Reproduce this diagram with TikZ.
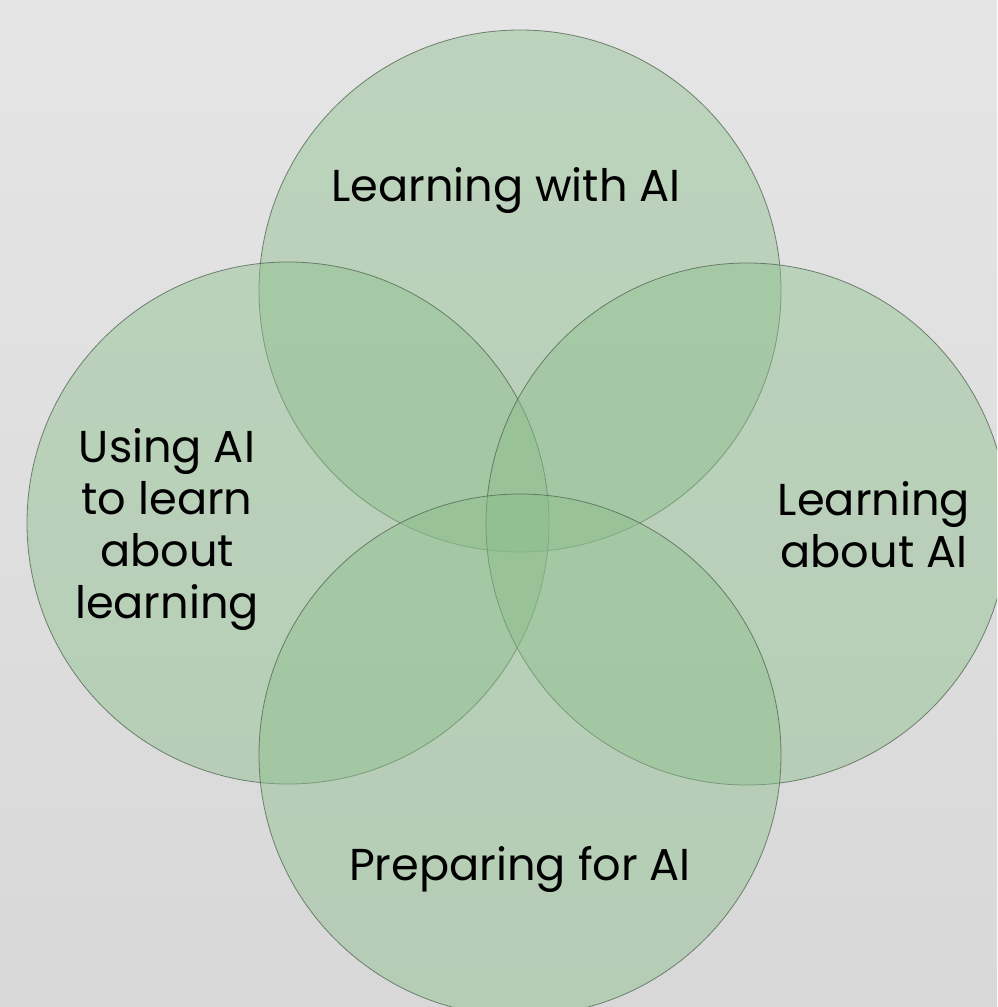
\documentclass[tikz,border=0pt]{standalone}
\usepackage{fontspec}
\setmainfont{Poppins}
\definecolor{bgtop}{RGB}{229,229,229}
\definecolor{bgbot}{RGB}{216,216,216}
\definecolor{vennfill}{RGB}{140,190,140}
\definecolor{vennline}{RGB}{85,105,85}

\begin{document}
\begin{tikzpicture}[x=0.75pt,y=-0.75pt,
    venn/.style={fill=vennfill,fill opacity=0.45,draw=vennline,draw opacity=0.8,line width=0.6pt},
    vlabel/.style={font=\fontsize{33.5}{39}\selectfont,align=center,text=black,inner sep=0pt}]
                % Draw the background
                \useasboundingbox (0,0) rectangle (997,1007);
                \clip (0,0) rectangle (997,1007);
                \shade[top color=bgtop,bottom color=bgbot] (0,0) rectangle (997,1007);
                % Draw the four circles
                \foreach \cx/\cy in {520/291,288/523,747/524,520/755}{
                    \filldraw[venn] (\cx,\cy) circle (261);
                }
                % Put the labels inside (base = last line)
                \node[vlabel,anchor=base] (withAI) at (506,201) {Learning with AI};
                \node[vlabel,anchor=base] (useAI) at (167,618) {Using AI\\to learn\\about\\learning};
                \node[vlabel,anchor=base] (aboutAI) at (874,567) {Learning\\about AI};
                \node[vlabel,anchor=base] (prepAI) at (520,880) {Preparing for AI};
            \end{tikzpicture}
\end{document}
